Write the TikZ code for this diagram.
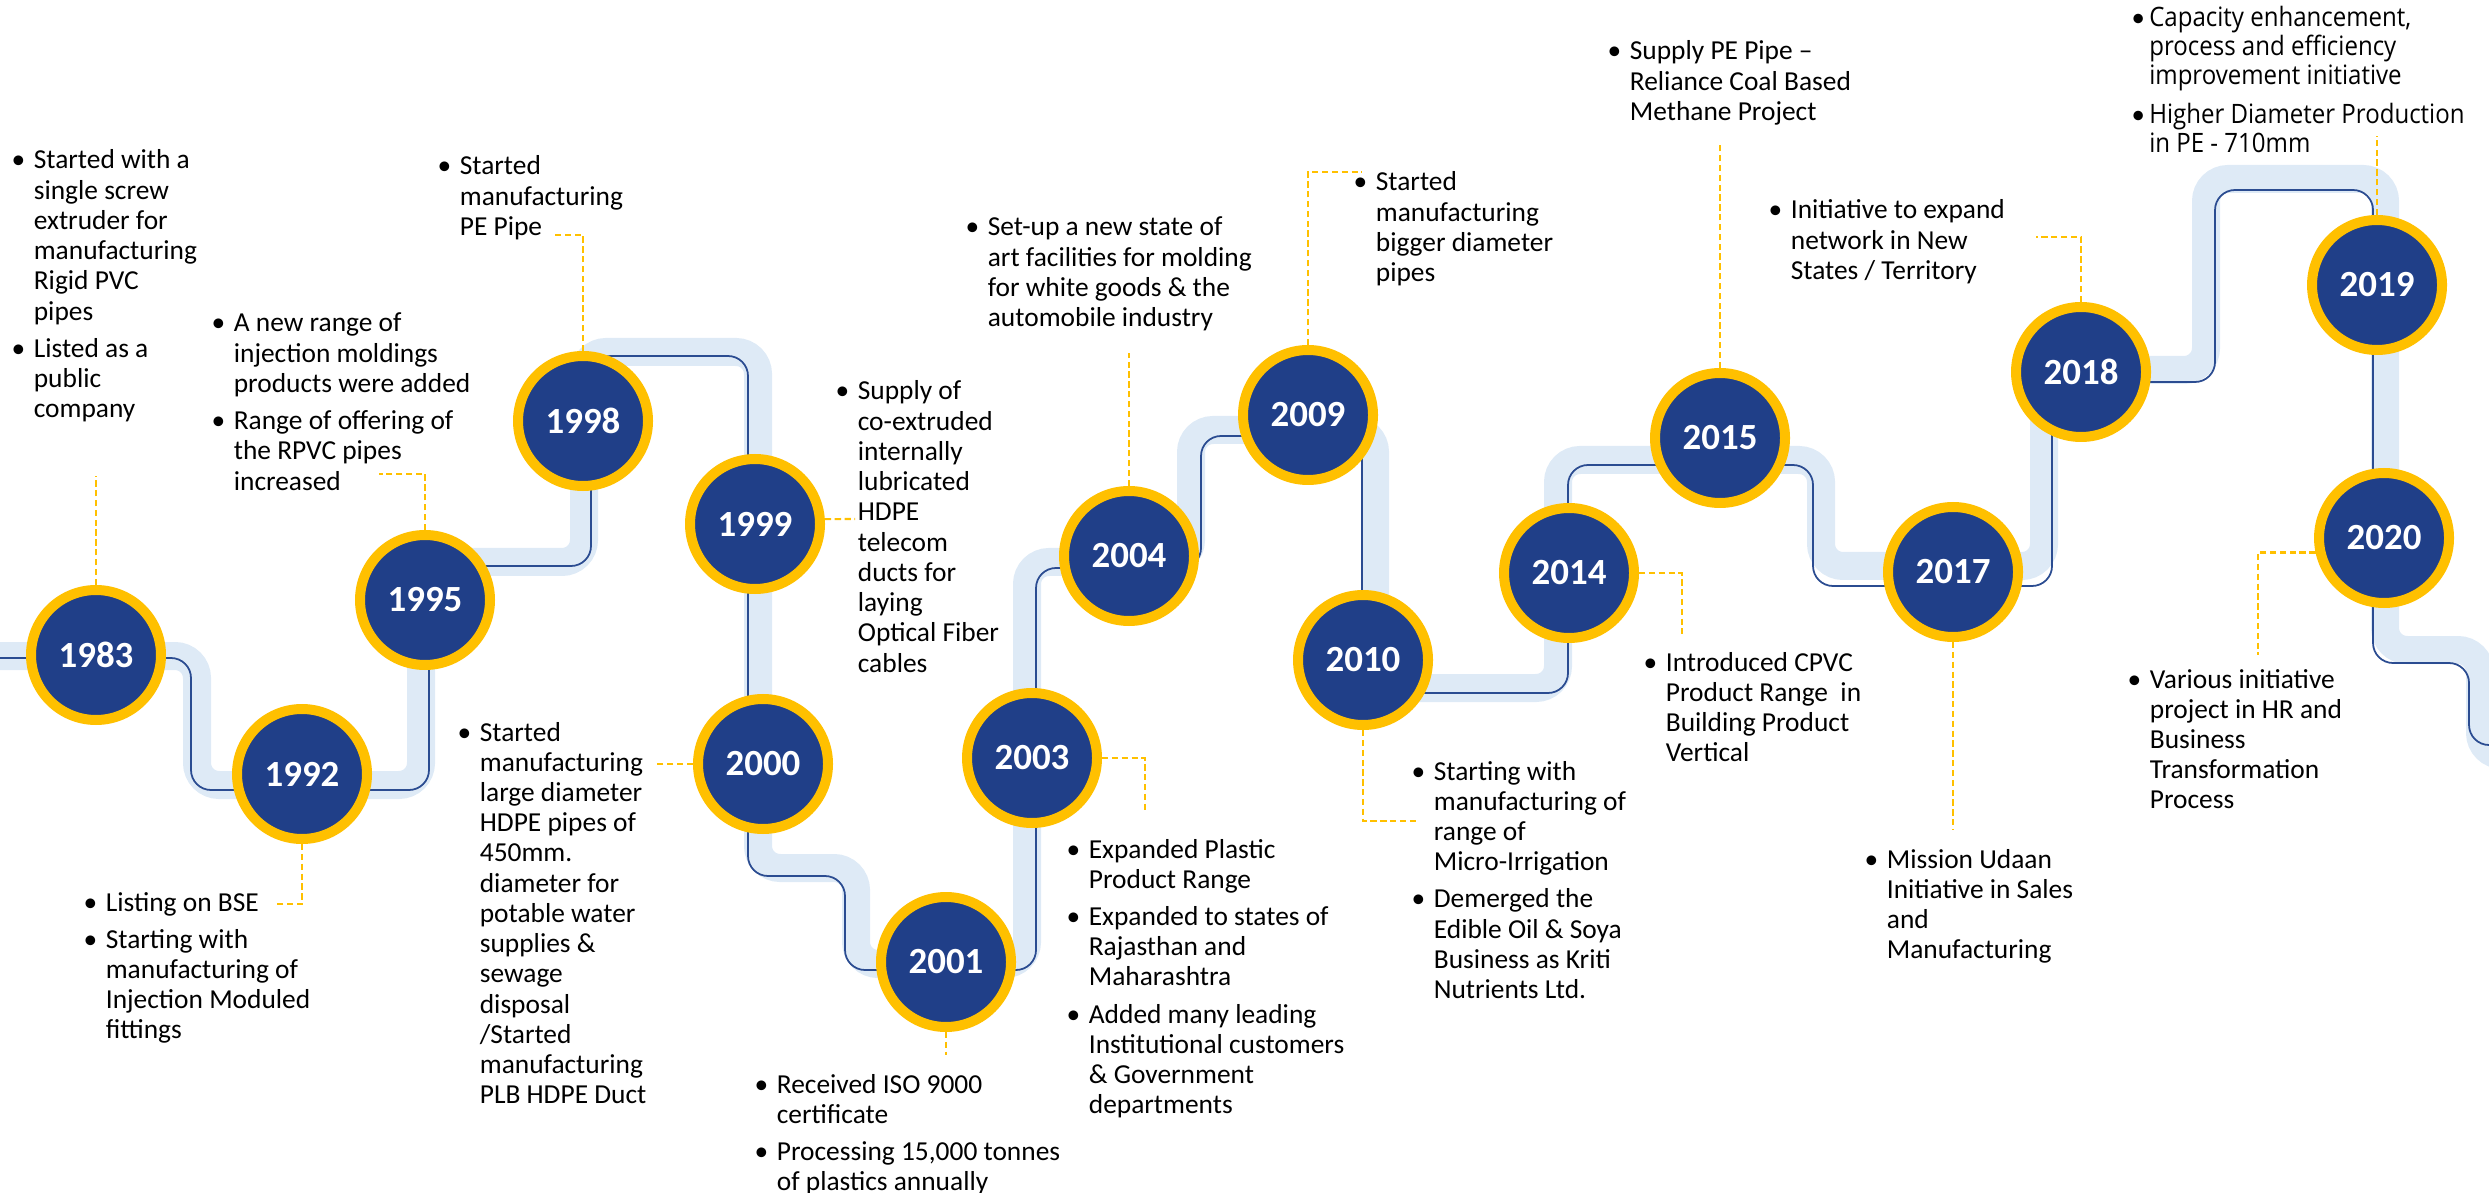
\documentclass[tikz,border=0pt]{standalone}
\usepackage{fontspec}
\setmainfont{Carlito}
\newfontfamily\segoe[FakeStretch=0.9]{Open Sans}
\definecolor{yearblue}{HTML}{203F88}
\definecolor{gold}{HTML}{FFC000}
\definecolor{pipeband}{HTML}{DEEAF6}
\definecolor{pipeline}{HTML}{2B4C91}
\newlength\bulgap
\setlength\bulgap{6.3pt}
\newcommand{\bul}{\makebox[\bulgap][l]{\rmfamily\textbullet}}
\newcommand{\blist}[1]{\begin{tabular}[t]{@{}l@{}l@{}}#1\end{tabular}}

\begin{document}
\begin{tikzpicture}[x=1cm, y=-1cm,
	yr/.style={circle, fill=yearblue, draw=gold, line width=0.1cm, minimum size=1.3cm, inner sep=0pt, text=white, font=\fontsize{10.5}{12}\selectfont\bfseries},
	note/.style={anchor=base west, inner sep=0pt, font=\fontsize{7.8}{8.6}\selectfont},
	lead/.style={gold, line width=0.6pt, dash pattern=on 1.8pt off 1pt}]
\useasboundingbox (0,0) rectangle (24.89,11.93);

% pipe
\draw[pipeband, line width=0.28cm, rounded corners=0.22cm] (-0.5,6.56) -- (1.97,6.56) -- (1.97,7.85) -- (4.21,7.85) -- (4.21,5.62) -- (5.84,5.62) -- (5.84,3.52) -- (7.58,3.52) -- (7.58,8.68) -- (8.56,8.68) -- (8.56,9.64) -- (10.27,9.64) -- (10.27,5.62) -- (11.91,5.62) -- (11.91,4.30) -- (13.75,4.30) -- (13.75,6.88) -- (15.58,6.88) -- (15.58,4.60) -- (18.21,4.60) -- (18.21,5.66) -- (20.44,5.66) -- (20.44,3.70) -- (22.06,3.70) -- (22.06,1.79) -- (23.85,1.79) -- (23.85,6.50) -- (24.80,6.50) -- (24.80,7.55) -- (25.5,7.55);
\draw[pipeline, line width=0.5pt, rounded corners=0.2cm] (-0.5,6.58) -- (1.91,6.58) -- (1.91,7.90) -- (4.29,7.90) -- (4.29,5.66) -- (5.91,5.66) -- (5.91,3.56) -- (7.48,3.56) -- (7.48,8.76) -- (8.45,8.76) -- (8.45,9.70) -- (10.36,9.70) -- (10.36,5.68) -- (12.01,5.68) -- (12.01,4.36) -- (13.62,4.36) -- (13.62,6.93) -- (15.68,6.93) -- (15.68,4.65) -- (18.13,4.65) -- (18.13,5.86) -- (20.52,5.86) -- (20.52,3.82) -- (22.15,3.82) -- (22.15,1.90) -- (23.73,1.90) -- (23.73,6.63) -- (24.69,6.63) -- (24.69,7.45) -- (25.5,7.45);

% years
\node[yr] (y1983) at (0.96,6.55) {1983};
\node[yr] (y1992) at (3.02,7.74) {1992};
\node[yr] (y1995) at (4.25,6.00) {1995};
\node[yr] (y1998) at (5.83,4.21) {1998};
\node[yr] (y1999) at (7.55,5.24) {1999};
\node[yr] (y2000) at (7.63,7.64) {2000};
\node[yr] (y2001) at (9.46,9.62) {2001};
\node[yr] (y2003) at (10.32,7.58) {2003};
\node[yr] (y2004) at (11.29,5.56) {2004};
\node[yr] (y2009) at (13.08,4.15) {2009};
\node[yr] (y2010) at (13.63,6.60) {2010};
\node[yr] (y2014) at (15.69,5.73) {2014};
\node[yr] (y2015) at (17.20,4.38) {2015};
\node[yr] (y2017) at (19.53,5.72) {2017};
\node[yr] (y2018) at (20.81,3.72) {2018};
\node[yr] (y2019) at (23.77,2.85) {2019};
\node[yr] (y2020) at (23.84,5.38) {2020};

% notes
\node[note] (t1983) at (0.11,1.69) {\blist{\bul & Started with a\\ & single screw\\ & extruder for\\ & manufacturing\\ & Rigid PVC\\ & pipes\\[2pt] \bul & Listed as a\\ & public\\ & company}};
\node[note] (t1995) at (2.11,3.32) {\blist{\bul & A new range of\\ & injection moldings\\ & products were added\\[2pt] \bul & Range of offering of\\ & the RPVC pipes\\ & increased}};
\node[note] (t1998) at (4.37,1.75) {\blist{\bul & Started\\ & manufacturing\\ & PE Pipe}};
\node[note] (t1992) at (0.83,9.11) {\blist{\bul & Listing on BSE\\[2pt] \bul & Starting with\\ & manufacturing of\\ & Injection Moduled\\ & fittings}};
\node[note] (t2000) at (4.57,7.41) {\blist{\bul & Started\\ & manufacturing\\ & large diameter\\ & HDPE pipes of\\ & 450mm.\\ & diameter for\\ & potable water\\ & supplies \&\\ & sewage\\ & disposal\\ & /Started\\ & manufacturing\\ & PLB HDPE Duct}};
\node[note] (t1999) at (8.35,4.00) {\blist{\bul & Supply of\\ & co-extruded\\ & internally\\ & lubricated\\ & HDPE\\ & telecom\\ & ducts for\\ & laying\\ & Optical Fiber\\ & cables}};
\node[note] (t2004) at (9.65,2.36) {\blist{\bul & Set-up a new state of\\ & art facilities for molding\\ & for white goods \& the\\ & automobile industry}};
\node[note] (t2001) at (7.54,10.93) {\blist{\bul & Received ISO 9000\\ & certificate\\[2pt] \bul & Processing 15,000 tonnes\\ & of plastics annually}};
\node[note] (t2003) at (10.66,8.58) {\blist{\bul & Expanded Plastic\\ & Product Range\\[2pt] \bul & Expanded to states of\\ & Rajasthan and\\ & Maharashtra\\[2pt] \bul & Added many leading\\ & Institutional customers\\ & \& Government\\ & departments}};
\node[note] (t2009) at (13.53,1.91) {\blist{\bul & Started\\ & manufacturing\\ & bigger diameter\\ & pipes}};
\node[note] (t2015) at (16.07,0.60) {\blist{\bul & Supply PE Pipe –\\ & Reliance Coal Based\\ & Methane Project}};
\node[note] (t2018) at (17.68,2.19) {\blist{\bul & Initiative to expand\\ & network in New\\ & States / Territory}};
\node[note, font=\segoe\fontsize{7.6}{8.1}\selectfont] (t2019) at (21.31,0.27) {\setlength\bulgap{5pt}\blist{\bul & Capacity enhancement,\\ & process and efficiency\\ & improvement initiative\\[3pt] \bul & Higher Diameter Production\\ & in PE - 710mm}};
\node[note] (t2010) at (14.11,7.80) {\blist{\bul & Starting with\\ & manufacturing of\\ & range of\\ & Micro-Irrigation\\[2pt] \bul & Demerged the\\ & Edible Oil \& Soya\\ & Business as Kriti\\ & Nutrients Ltd.}};
\node[note] (t2014) at (16.43,6.71) {\blist{\bul & Introduced CPVC\\ & Product Range~ in\\ & Building Product\\ & Vertical}};
\node[note] (t2017) at (18.64,8.68) {\blist{\bul & Mission Udaan\\ & Initiative in Sales\\ & and\\ & Manufacturing}};
\node[note] (t2020) at (21.27,6.88) {\blist{\bul & Various initiative\\ & project in HR and\\ & Business\\ & Transformation\\ & Process}};

% leads
\coordinate (d1983) at (0.96,4.76);
\coordinate (d1992) at (2.76,9.04);
\coordinate (d1995) at (3.79,4.74);
\coordinate (d1998) at (5.54,2.35);
\coordinate (d1999) at (8.55,5.19);
\coordinate (d2000) at (6.54,7.64);
\coordinate (d2001) at (9.46,10.55);
\coordinate (d2003) at (11.45,8.13);
\coordinate (d2004) at (11.29,3.53);
\coordinate (d2009) at (13.62,1.72);
\coordinate (d2010) at (14.18,8.21);
\coordinate (d2014) at (16.82,6.34);
\coordinate (d2015) at (17.20,1.45);
\coordinate (d2017) at (19.53,8.30);
\coordinate (d2018) at (20.36,2.37);
\coordinate (d2019) at (23.77,1.36);
\coordinate (d2020) at (22.58,6.55);
\draw[lead] (y1983.north) |- (d1983);
\draw[lead] (y1992.south) |- (d1992);
\draw[lead] (y1995.north) |- (d1995);
\draw[lead] (y1998.north) |- (d1998);
\draw[lead] (y1999.4) -- (d1999);
\draw[lead] (y2000.west) -- (d2000);
\draw[lead] (y2001.south) -- (d2001);
\draw[lead] (y2003.east) -| (d2003);
\draw[lead] (y2004.north) -- (d2004);
\draw[lead] (y2009.north) |- (d2009);
\draw[lead] (y2010.south) |- (d2010);
\draw[lead] (y2014.east) -| (d2014);
\draw[lead] (y2015.north) -- (d2015);
\draw[lead] (y2017.south) -- (d2017);
\draw[lead] (y2018.north) |- (d2018);
\draw[lead] (y2019.north) -- (d2019);
\draw[lead] (y2020.192) -| (d2020);
\end{tikzpicture}
\end{document}
